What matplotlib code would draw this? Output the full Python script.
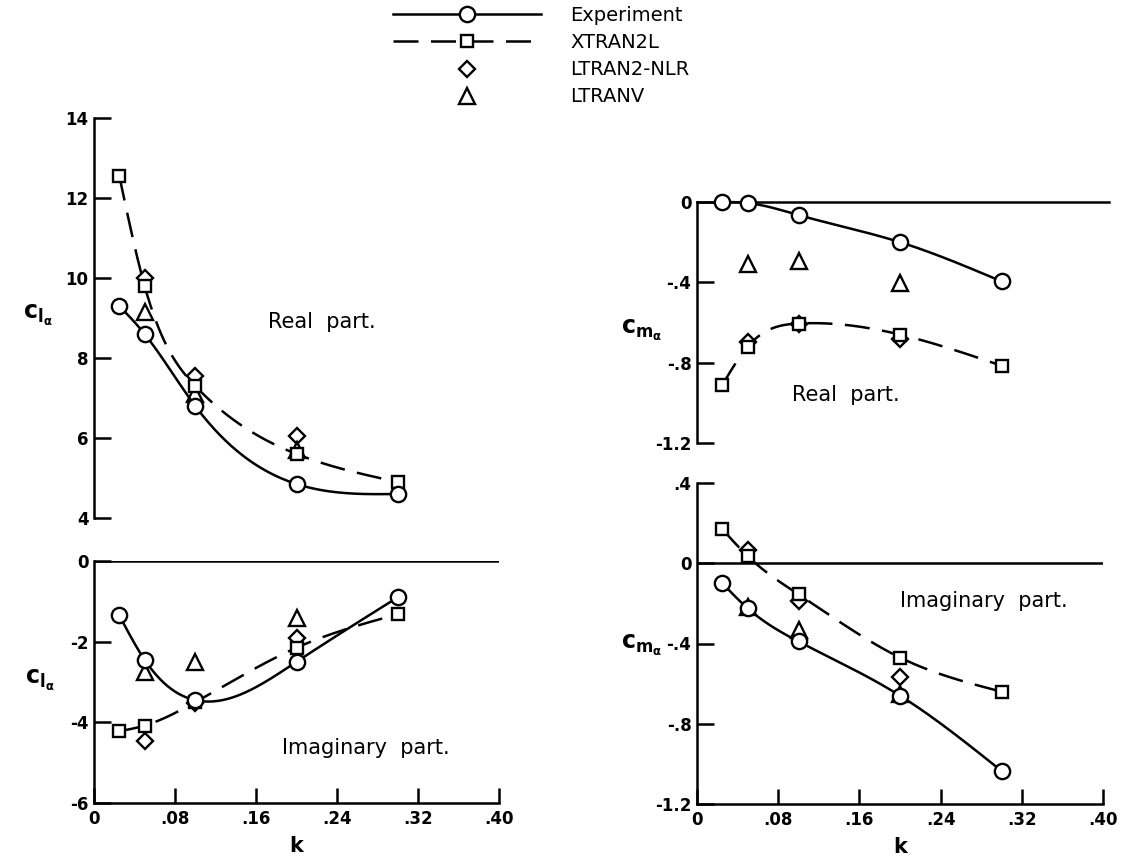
import numpy as np
import matplotlib
matplotlib.use("Agg")
import matplotlib.pyplot as plt
from matplotlib.lines import Line2D

plt.rcParams["font.family"] = ["DejaVu Sans"]
plt.rcParams["mathtext.fontset"] = "dejavusans"

# reduced frequency
k = [0.025, 0.05, 0.10, 0.20, 0.30]
k_calc = [0.05, 0.10, 0.20]

# lift curve slope, real part
cla_re_exp = [9.3, 8.6, 6.8, 4.85, 4.6]
cla_re_xtran = [12.55, 9.8, 7.3, 5.6, 4.9]
cla_re_nlr = [10.0, 7.55, 6.05]
cla_re_ltranv = [9.15, 7.1, 5.7]

# lift curve slope, imaginary part
cla_im_exp = [-1.35, -2.45, -3.45, -2.5, -0.9]
cla_im_xtran = [-4.22, -4.08, -3.5, -2.15, -1.32]
cla_im_nlr = [-4.47, -3.52, -1.92]
cla_im_ltranv = [-2.75, -2.5, -1.42]

# moment curve slope, real part
cma_re_exp = [0.0, -0.005, -0.065, -0.2, -0.395]
cma_re_xtran = [-0.91, -0.72, -0.605, -0.66, -0.815]
cma_re_nlr = [-0.695, -0.605, -0.68]
cma_re_ltranv = [-0.31, -0.295, -0.405]

# moment curve slope, imaginary part
cma_im_exp = [-0.1, -0.225, -0.39, -0.66, -1.035]
cma_im_xtran = [0.17, 0.035, -0.155, -0.47, -0.64]
cma_im_nlr = [0.065, -0.19, -0.565]
cma_im_ltranv = [-0.22, -0.335, -0.65]

k_ticks = [0, 0.08, 0.16, 0.24, 0.32, 0.40]
k_labels = ["0", ".08", ".16", ".24", ".32", ".40"]

LW = 1.8
DASH = (10, 5)


def smooth(x, y, n=200):
    # natural cubic spline through the points, for the faired curves
    x = np.asarray(x, float)
    y = np.asarray(y, float)
    h = np.diff(x)
    m = len(x)
    A = np.zeros((m, m))
    r = np.zeros(m)
    A[0, 0] = A[-1, -1] = 1
    for i in range(1, m - 1):
        A[i, i - 1] = h[i - 1]
        A[i, i] = 2 * (h[i - 1] + h[i])
        A[i, i + 1] = h[i]
        r[i] = 3 * ((y[i + 1] - y[i]) / h[i] - (y[i] - y[i - 1]) / h[i - 1])
    c = np.linalg.solve(A, r)
    b = (y[1:] - y[:-1]) / h - h * (2 * c[:-1] + c[1:]) / 3
    d = (c[1:] - c[:-1]) / (3 * h)
    xs = np.linspace(x[0], x[-1], n)
    idx = np.clip(np.searchsorted(x, xs) - 1, 0, m - 2)
    dx = xs - x[idx]
    ys = y[idx] + b[idx] * dx + c[idx] * dx ** 2 + d[idx] * dx ** 3
    return xs, ys


def draw_panel(ax, exp, xtran, nlr, ltranv):
    xs, ys = smooth(k, exp)
    ax.plot(xs, ys, color="black", lw=LW, zorder=2, clip_on=False)
    xs, ys = smooth(k, xtran)
    ax.plot(xs, ys, color="black", lw=LW, dashes=DASH, zorder=2, clip_on=False)
    ax.plot(k_calc, nlr, ls="none", marker="D", ms=8, mfc="none", mec="black",
            mew=1.7, zorder=3, clip_on=False)
    ax.plot(k_calc, ltranv, ls="none", marker="^", ms=11, mfc="none", mec="black",
            mew=1.7, zorder=3, clip_on=False)
    ax.plot(k, xtran, ls="none", marker="s", ms=9, mfc="white", mec="black",
            mew=1.7, zorder=4, clip_on=False)
    ax.plot(k, exp, ls="none", marker="o", ms=11, mfc="white", mec="black",
            mew=1.7, zorder=5, clip_on=False)


def style_axes(ax, yticks, ylabels, bottom_axis):
    ax.set_xlim(0, 0.40)
    ax.set_ylim(yticks[-1], yticks[0])
    for s in ["top", "right", "bottom"]:
        ax.spines[s].set_visible(False)
    ax.spines["left"].set_linewidth(LW)
    ax.set_yticks(yticks)
    ax.set_yticklabels(ylabels, fontsize=12, fontweight="bold")
    ax.tick_params(axis="y", direction="in", length=12, width=LW, pad=4)
    if bottom_axis:
        ax.spines["bottom"].set_visible(True)
        ax.spines["bottom"].set_linewidth(LW)
        ax.set_xticks(k_ticks)
        ax.set_xticklabels(k_labels, fontsize=12, fontweight="bold")
        ax.tick_params(axis="x", direction="in", length=11, width=LW, pad=5)
        ax.set_xlabel("k", fontsize=15, fontweight="bold", labelpad=6)
    else:
        ax.set_xticks([])
    ax.patch.set_alpha(0)


W, H = 1126, 857
fig = plt.figure(figsize=(W / 100, H / 100), dpi=100)


def px_axes(x0, x1, y_top, y_bot):
    return fig.add_axes([x0 / W, 1 - y_bot / H, (x1 - x0) / W, (y_bot - y_top) / H])


# c_l_alpha, real part
ax1 = px_axes(94, 499, 118, 518)
draw_panel(ax1, cla_re_exp, cla_re_xtran, cla_re_nlr, cla_re_ltranv)
style_axes(ax1, [14, 12, 10, 8, 6, 4], ["14", "12", "10", "8", "6", "4"], False)
ax1.text(0.172, 8.9, "Real  part.", fontsize=15, va="center")

# c_l_alpha, imaginary part
ax2 = px_axes(94, 499, 561, 803)
draw_panel(ax2, cla_im_exp, cla_im_xtran, cla_im_nlr, cla_im_ltranv)
style_axes(ax2, [0, -2, -4, -6], ["0", "-2", "-4", "-6"], True)
ax2.axhline(0, color="black", lw=LW, zorder=1)
ax2.text(0.186, -4.63, "Imaginary  part.", fontsize=15, va="center")

# c_m_alpha, real part
ax3 = px_axes(697, 1103, 202, 443)
draw_panel(ax3, cma_re_exp, cma_re_xtran, cma_re_nlr, cma_re_ltranv)
style_axes(ax3, [0, -0.4, -0.8, -1.2], ["0", "-.4", "-.8", "-1.2"], False)
ax3.axhline(0, xmax=1.015, color="black", lw=LW, zorder=1, clip_on=False)
ax3.text(0.094, -0.96, "Real  part.", fontsize=15, va="center")

# c_m_alpha, imaginary part
ax4 = px_axes(697, 1103, 483, 804)
draw_panel(ax4, cma_im_exp, cma_im_xtran, cma_im_nlr, cma_im_ltranv)
style_axes(ax4, [0.4, 0, -0.4, -0.8, -1.2], [".4", "0", "-.4", "-.8", "-1.2"], True)
ax4.axhline(0, color="black", lw=LW, zorder=1)
ax4.text(0.2, -0.19, "Imaginary  part.", fontsize=15, va="center")

# y-axis symbols
cla = r"$\mathbf{c}_{\mathbf{l}_{\mathbf{\alpha}}}$"
cma = r"$\mathbf{c}_{\mathbf{m}_{\mathbf{\alpha}}}$"
fig.text(38 / W, 1 - 315 / H, cla, fontsize=17, ha="center", va="center")
fig.text(40 / W, 1 - 680 / H, cla, fontsize=17, ha="center", va="center")
fig.text(642 / W, 1 - 330 / H, cma, fontsize=17, ha="center", va="center")
fig.text(642 / W, 1 - 645 / H, cma, fontsize=17, ha="center", va="center")

handles = [
    Line2D([], [], color="black", lw=LW, marker="o", ms=11, mfc="white", mew=1.7),
    Line2D([], [], color="black", lw=LW, dashes=DASH, marker="s", ms=9, mfc="white", mew=1.7),
    Line2D([], [], ls="none", marker="D", ms=8, mfc="none", mec="black", mew=1.7),
    Line2D([], [], ls="none", marker="^", ms=11, mfc="none", mec="black", mew=1.7),
]
labels = ["Experiment", "XTRAN2L", "LTRAN2-NLR", "LTRANV"]
fig.legend(handles, labels, loc="upper left", bbox_to_anchor=(393 / W, 1 - 6 / H),
           frameon=False, fontsize=14, handlelength=7.6, handletextpad=1.5,
           labelspacing=0.42, borderpad=0, borderaxespad=0, numpoints=1)

fig.savefig("out.png", dpi=100, facecolor="white")
